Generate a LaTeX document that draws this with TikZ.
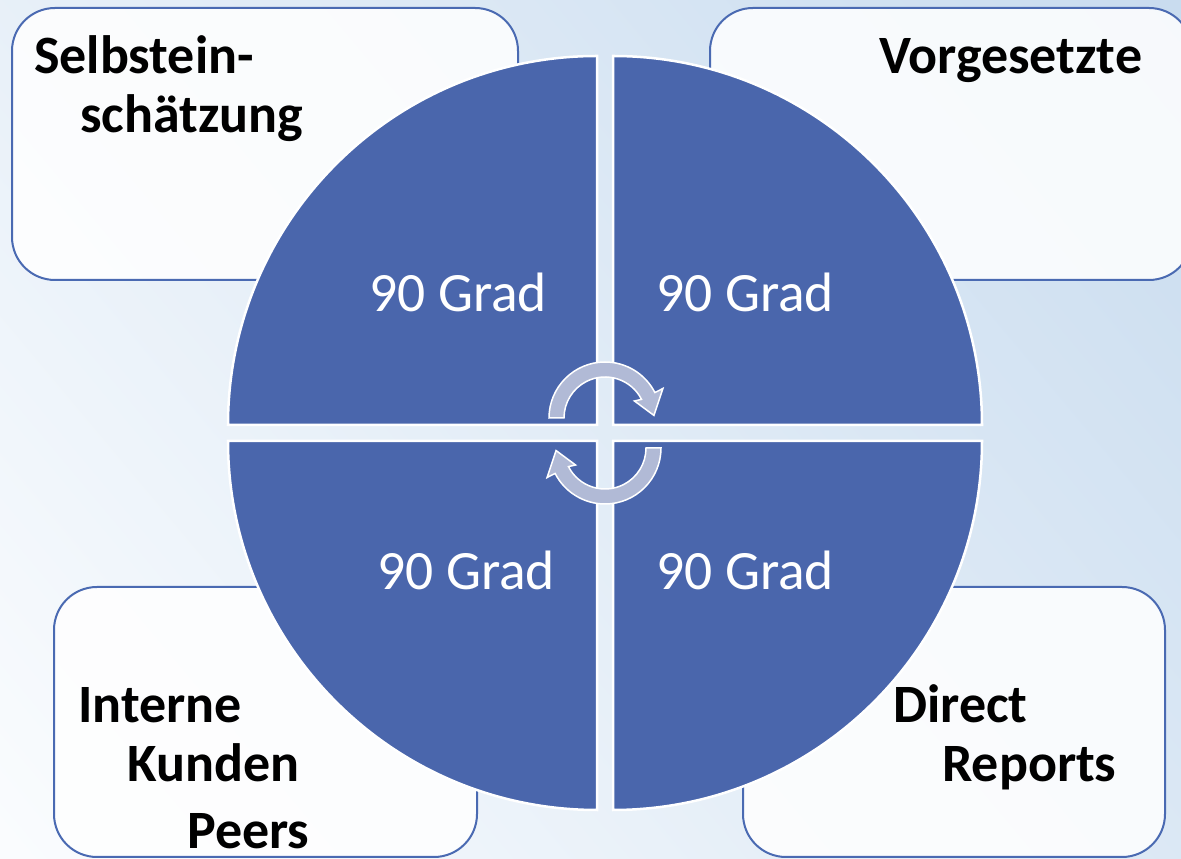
\documentclass[tikz,border=0pt]{standalone}
\usepackage{fontspec}
\setmainfont{Carlito}
\definecolor{quad}{HTML}{4A66AC}
\definecolor{boxline}{HTML}{4A6AB2}
\definecolor{arrowfill}{HTML}{B1BAD6}
\definecolor{bgdark}{HTML}{C9DCEF}
\definecolor{bglight}{HTML}{FAFCFE}
\tikzset{
  labelbox/.style={draw=boxline, line width=2pt, fill=white, fill opacity=0.85, rounded corners=43pt},
  quadrant/.style={fill=quad, draw=white, line width=2.5pt},
  gradtext/.style={text=white, font=\fontsize{55.5}{60}\selectfont, anchor=base west, inner sep=0pt},
  lbl/.style={text=black, font=\fontsize{54}{60}\selectfont\bfseries, anchor=base west, inner sep=0pt},
  cyclearrow/.style={fill=arrowfill, draw=white, line width=1.5pt, line join=miter}
}
\begin{document}
\begin{tikzpicture}[x=1pt,y=1pt]
\useasboundingbox (0,0) rectangle (1181,859);
% background
\shade[top color=bgdark, bottom color=bglight, shading angle=-50] (-200,-200) rectangle (1381,1059);
% boxes
\path[labelbox] (12,579) rectangle (518,851);
\path[labelbox] (710,579) rectangle (1192,851);
\path[labelbox] (54,2) rectangle (477,272);
\path[labelbox] (743,2) rectangle (1165,272);
% quadrants
\path[quadrant] (597,434) -- ++(180:369pt) arc[start angle=180,end angle=90,radius=369pt] -- cycle;
\path[quadrant] (613,434) -- ++(90:369pt) arc[start angle=90,end angle=0,radius=369pt] -- cycle;
\path[quadrant] (597,418) -- ++(270:369pt) arc[start angle=270,end angle=180,radius=369pt] -- cycle;
\path[quadrant] (613,418) -- ++(0:369pt) arc[start angle=0,end angle=-90,radius=369pt] -- cycle;
% cycle arrows
\begin{scope}[shift={(605,441)}]
\path[cyclearrow] (180:56pt) arc[start angle=180,end angle=27,radius=56pt]
  -- (27:65pt) -- (3:49pt) -- (30:34pt) -- (27:41pt)
  arc[start angle=27,end angle=180,radius=41pt] -- cycle;
\end{scope}
\begin{scope}[shift={(605,411)}]
\path[cyclearrow] (0:56pt) arc[start angle=0,end angle=-153,radius=56pt]
  -- (207:65pt) -- (183:49pt) -- (210:34pt) -- (207:41pt)
  arc[start angle=-153,end angle=0,radius=41pt] -- cycle;
\end{scope}
% quadrant texts
\node[gradtext] (g1) at (369,547) {90 Grad};
\node[gradtext] (g2) at (656,547) {90 Grad};
\node[gradtext] (g3) at (377,269) {90 Grad};
\node[gradtext] (g4) at (656,269) {90 Grad};
% labels
\node[lbl] (l1a) at (34,785) {Selbstein-};
\node[lbl] (l1b) at (80,726) {schätzung};
\node[lbl] (l2) at (879,785) {Vorgesetzte};
\node[lbl] (l3a) at (78,136) {Interne};
\node[lbl] (l3b) at (127,77) {Kunden};
\node[lbl] (l3c) at (187,10) {Peers};
\node[lbl] (l4a) at (893,136) {Direct};
\node[lbl] (l4b) at (942,77) {Reports};
\end{tikzpicture}
\end{document}
